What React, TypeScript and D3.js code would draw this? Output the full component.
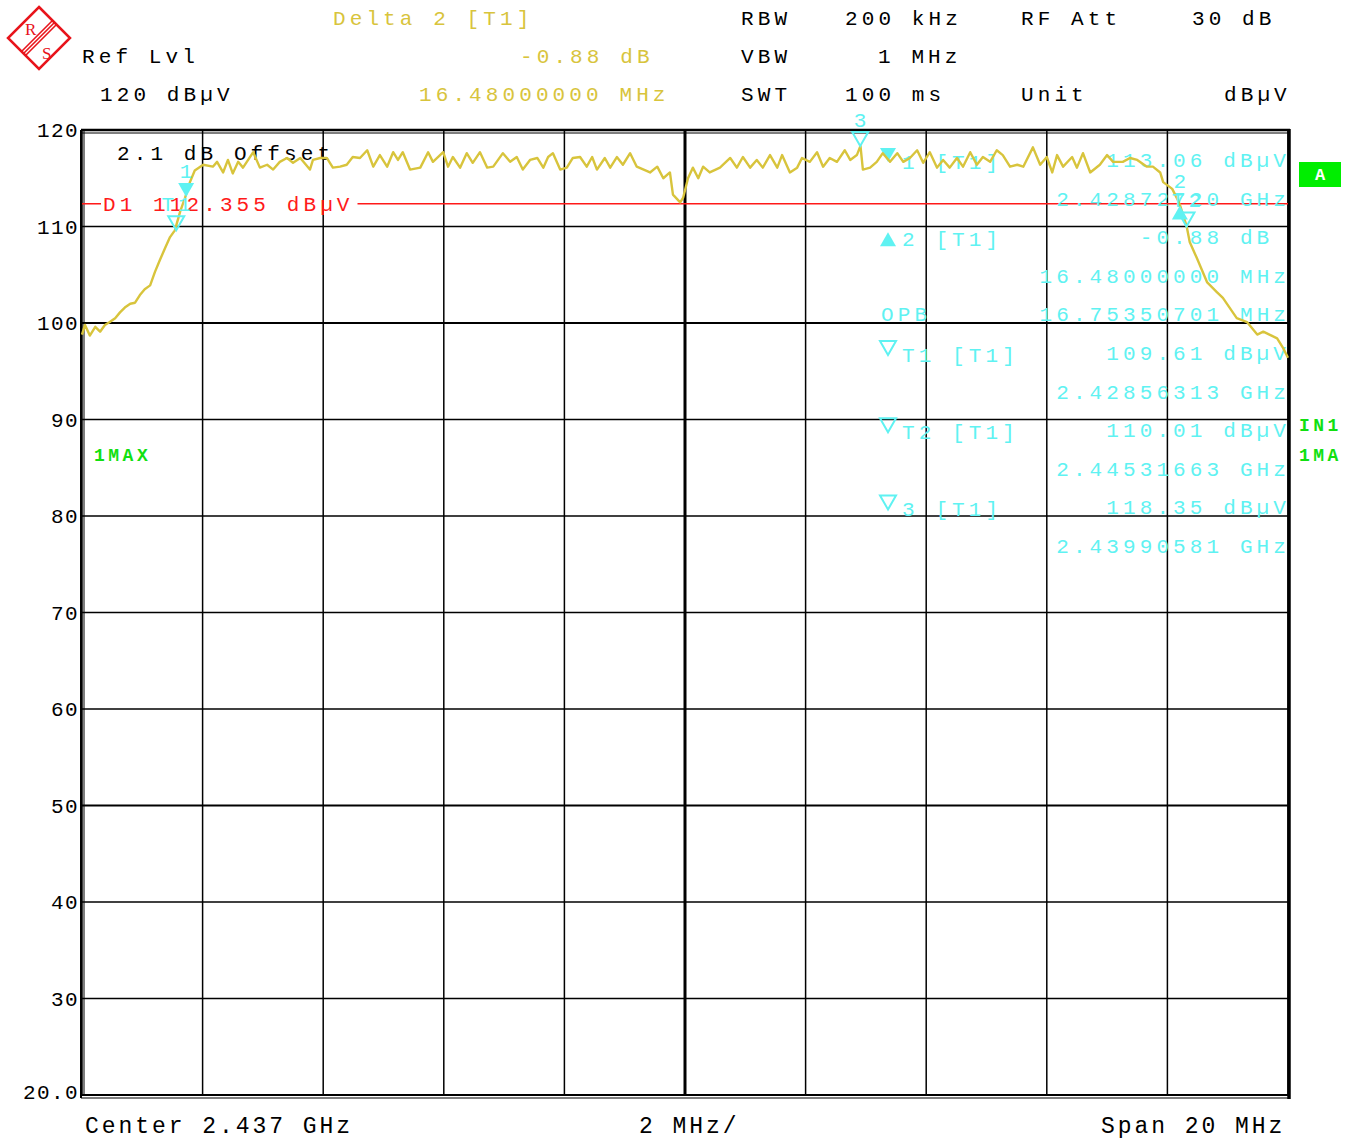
import { scaleLinear, line, range } from 'd3';

// trace 1 (max hold), offset from center in MHz, level in dBµV
const traceData: [number, number][] = [
  [-10.0, 98.8], [-9.95, 99.8], [-9.87, 98.7], [-9.78, 99.6], [-9.7, 99.1], [-9.62, 99.8],
  [-9.54, 100.1], [-9.45, 100.5], [-9.37, 101.1], [-9.29, 101.6], [-9.2, 102.0], [-9.12, 102.1],
  [-9.04, 102.9], [-8.96, 103.5], [-8.87, 103.9], [-8.79, 105.3], [-8.71, 106.5], [-8.62, 107.8],
  [-8.54, 108.9], [-8.46, 109.6], [-8.37, 111.6], [-8.29, 113.0], [-8.21, 114.6], [-8.13, 115.8],
  [-7.99, 116.4], [-7.83, 116.2], [-7.76, 116.7], [-7.66, 115.6], [-7.58, 116.9], [-7.5, 115.5],
  [-7.41, 116.7], [-7.33, 116.1], [-7.16, 117.7], [-7.05, 116.1], [-6.93, 116.4], [-6.83, 115.9],
  [-6.72, 116.7], [-6.6, 117.1], [-6.5, 116.6], [-6.38, 117.1], [-6.22, 115.9], [-6.17, 116.9],
  [-6.05, 117.1], [-5.94, 117.1], [-5.84, 116.1], [-5.72, 116.2], [-5.61, 116.4], [-5.51, 117.2],
  [-5.39, 117.1], [-5.27, 117.9], [-5.17, 116.2], [-5.06, 117.4], [-4.94, 116.2], [-4.84, 117.7],
  [-4.76, 116.9], [-4.68, 117.7], [-4.56, 115.9], [-4.39, 116.1], [-4.26, 117.7], [-4.18, 116.7],
  [-4.01, 117.7], [-3.93, 116.2], [-3.85, 117.2], [-3.73, 116.1], [-3.62, 117.6], [-3.52, 116.6],
  [-3.4, 117.7], [-3.28, 116.1], [-3.18, 116.2], [-3.02, 117.6], [-2.9, 116.7], [-2.79, 117.2],
  [-2.69, 115.9], [-2.57, 116.9], [-2.45, 117.1], [-2.35, 116.1], [-2.27, 117.2], [-2.19, 117.6],
  [-2.07, 115.9], [-1.96, 116.1], [-1.86, 117.1], [-1.74, 117.2], [-1.63, 116.2], [-1.54, 117.2],
  [-1.46, 115.9], [-1.33, 117.1], [-1.24, 116.1], [-1.13, 117.2], [-1.03, 116.4], [-0.91, 117.6],
  [-0.8, 116.2], [-0.58, 115.6], [-0.46, 116.2], [-0.36, 115.0], [-0.25, 115.6], [-0.2, 113.3],
  [-0.08, 112.5], [-0.03, 113.0], [0.05, 115.0], [0.13, 116.1], [0.22, 115.0], [0.3, 116.2],
  [0.41, 115.6], [0.58, 116.1], [0.75, 117.1], [0.86, 116.1], [0.96, 117.2], [1.08, 116.1],
  [1.19, 116.9], [1.29, 116.1], [1.41, 117.4], [1.53, 116.1], [1.61, 117.4], [1.74, 115.6],
  [1.86, 116.1], [1.94, 117.1], [2.07, 116.7], [2.19, 117.7], [2.29, 116.2], [2.4, 117.1],
  [2.52, 116.7], [2.65, 117.9], [2.74, 116.9], [2.85, 117.4], [2.91, 118.35], [2.95, 115.9],
  [3.07, 116.1], [3.18, 116.7], [3.28, 117.6], [3.4, 116.7], [3.52, 117.6], [3.62, 116.7],
  [3.73, 117.1], [3.85, 117.9], [3.95, 116.6], [4.06, 117.7], [4.18, 116.1], [4.28, 116.9],
  [4.39, 116.1], [4.51, 117.1], [4.61, 116.2], [4.73, 117.7], [4.84, 116.4], [4.94, 117.2],
  [5.06, 116.7], [5.17, 117.9], [5.27, 117.4], [5.39, 116.2], [5.51, 116.4], [5.61, 116.2],
  [5.77, 118.2], [5.89, 116.4], [6.0, 117.2], [6.09, 115.6], [6.17, 117.4], [6.27, 116.2],
  [6.42, 117.2], [6.5, 116.1], [6.6, 117.6], [6.72, 115.6], [6.88, 116.4], [7.0, 117.4],
  [7.1, 116.7], [7.26, 116.7], [7.38, 117.1], [7.5, 116.9], [7.66, 116.2], [7.76, 116.2],
  [7.88, 115.6], [7.93, 114.6], [8.08, 113.9], [8.16, 112.9], [8.21, 112.2], [8.26, 111.2],
  [8.32, 110.0], [8.37, 108.4], [8.49, 106.7], [8.66, 104.2], [8.82, 103.2], [8.92, 102.6],
  [9.15, 100.5], [9.32, 100.1], [9.49, 98.8], [9.59, 99.1], [9.82, 98.4], [9.92, 97.4],
  [10.0, 96.4],
];

const centerGHz = 2.437;
const spanMHz = 20;
const yTickValues = [120, 110, 100, 90, 80, 70, 60, 50, 40, 30, 20];
const yTickLabels = ['120', '110', '100', '90', '80', '70', '60', '50', '40', '30', '20.0'];
const displayLine = 112.355;

type Marker = { label: string; ghz: number; level: number; kind: 'down' | 'open' | 'up' };
const markers: Marker[] = [
  { label: '1', ghz: 2.4287272, level: 113.06, kind: 'down' },
  { label: 'T1', ghz: 2.42856313, level: 109.61, kind: 'open' },
  { label: 'T2', ghz: 2.44531663, level: 110.01, kind: 'open' },
  { label: '3', ghz: 2.43990581, level: 118.35, kind: 'open' },
  { label: '2', ghz: 2.4452072, level: 112.18, kind: 'up' },
];

// marker info block: symbol, name, value
const markerRows: [string, string, string][] = [
  ['down', '1 [T1]', '113.06 dBµV'],
  ['', '', '2.42872720 GHz'],
  ['up', '2 [T1]', '-0.88 dB '],
  ['', '', '16.48000000 MHz'],
  ['', 'OPB', '16.75350701 MHz'],
  ['open', 'T1 [T1]', '109.61 dBµV'],
  ['', '', '2.42856313 GHz'],
  ['open', 'T2 [T1]', '110.01 dBµV'],
  ['', '', '2.44531663 GHz'],
  ['open', '3 [T1]', '118.35 dBµV'],
  ['', '', '2.43990581 GHz'],
];

const MONO = "'Liberation Mono','DejaVu Sans Mono',monospace";
const CW = 16.7;
const CYAN = '#5ff2f2';
const YEL = '#d8c43c';
const RED = '#ff1a1a';
const GREEN = '#11e011';

function T({ x, y, children, fill = '#000', size = 21, ls = 4.1, weight = 'normal' }: any) {
  return (
    <text x={x} y={y} fill={fill} fontFamily={MONO} fontSize={size} letterSpacing={ls} fontWeight={weight}
      style={{ whiteSpace: 'pre' }}>
      {children}
    </text>
  );
}

function tri(kind: string, cx: number, tipY: number) {
  const w = 8, h = 14;
  if (kind === 'up') {
    return <path d={`M${cx},${tipY} L${cx + w},${tipY + h} L${cx - w},${tipY + h} Z`} fill={CYAN} />;
  }
  const d = `M${cx},${tipY} L${cx + w},${tipY - h} L${cx - w},${tipY - h} Z`;
  return kind === 'down'
    ? <path d={d} fill={CYAN} />
    : <path d={d} fill="none" stroke={CYAN} strokeWidth={2} />;
}

export default function App() {
  const left = 82, right = 1288, top = 130, bottom = 1095;
  const x = scaleLinear().domain([-spanMHz / 2, spanMHz / 2]).range([left, right]);
  const y = scaleLinear().domain([20, 120]).range([bottom, top]);
  const path = line<[number, number]>().x(d => x(d[0])).y(d => y(d[1]))(traceData) || '';
  const xDivs = range(-spanMHz / 2, spanMHz / 2 + 0.001, 2);
  const mx = (g: number) => x((g - centerGHz) * 1000);

  const d1Text = `D1 ${displayLine} dBµV`;
  const d1x = 103;
  const d1End = d1x + d1Text.length * CW;

  return (
    <svg width={1360} height={1139} style={{ position: 'absolute', left: 0, top: 0, background: '#fff' }}>
      {/* logo */}
      <g transform="translate(39,38)">
        <path d="M0,-31 L31,0 L0,31 L-31,0 Z" fill="none" stroke="#e8141b" strokeWidth={2.5} />
        {[-4, 0, 4].map(d => (
          <line key={d} x1={(d + 31) / 2} y1={(d - 31) / 2} x2={(d - 31) / 2} y2={(d + 31) / 2} stroke="#e8141b" strokeWidth={1.6} />
        ))}
        <text x={-14} y={-3} fill="#e8141b" fontFamily="'Liberation Serif',serif" fontSize={17}>R</text>
        <text x={3} y={21} fill="#e8141b" fontFamily="'Liberation Serif',serif" fontSize={17}>S</text>
      </g>

      {/* header */}
      <T x={333} y={25} fill={YEL}>Delta 2 [T1]</T>
      <T x={82} y={63}>Ref Lvl</T>
      <T x={520} y={63} fill={YEL}>-0.88 dB</T>
      <T x={100} y={101}>120 dBµV</T>
      <T x={419} y={101} fill={YEL}>16.48000000 MHz</T>
      <T x={741} y={25}>RBW</T>
      <T x={845} y={25}>200 kHz</T>
      <T x={1021} y={25}>RF Att</T>
      <T x={1192} y={25}>30 dB</T>
      <T x={741} y={63}>VBW</T>
      <T x={878} y={63}>1 MHz</T>
      <T x={741} y={101}>SWT</T>
      <T x={845} y={101}>100 ms</T>
      <T x={1021} y={101}>Unit</T>
      <T x={1224} y={101}>dBµV</T>

      {/* grid */}
      {yTickValues.map(v => (
        <line key={'h' + v} x1={left} x2={right} y1={y(v)} y2={y(v)} stroke="#000" strokeWidth={v === 100 || v === 50 ? 2 : 1.4} />
      ))}
      {xDivs.map(v => (
        <line key={'v' + v} x1={x(v)} x2={x(v)} y1={top} y2={bottom} stroke="#000" strokeWidth={v === 0 ? 3 : 1.5} />
      ))}
      {/* frame */}
      <line x1={left - 1} x2={right + 2} y1={top} y2={top} stroke="#000" strokeWidth={2.5} />
      <line x1={left} x2={right} y1={top + 3} y2={top + 3} stroke="#000" strokeWidth={1} />
      <line x1={left - 1} x2={right + 2} y1={bottom} y2={bottom} stroke="#000" strokeWidth={2} />
      <line x1={left - 1} x2={right + 2} y1={bottom + 3} y2={bottom + 3} stroke="#000" strokeWidth={1.2} />
      <line x1={left - 1} x2={left - 1} y1={top} y2={bottom + 3} stroke="#000" strokeWidth={2} />
      <line x1={left + 2} x2={left + 2} y1={top} y2={bottom} stroke="#000" strokeWidth={1} />
      <line x1={right + 1} x2={right + 1} y1={top - 1} y2={bottom + 4} stroke="#000" strokeWidth={3.5} />

      {yTickValues.map((v, i) => (
        <T key={'l' + v} x={79 - yTickLabels[i].length * 14} y={y(v) + (v === 20 ? 4 : 7)} ls={1.4}>{yTickLabels[i]}</T>
      ))}

      {/* display line D1 */}
      <line x1={left} x2={d1x - 2} y1={y(displayLine)} y2={y(displayLine)} stroke={RED} strokeWidth={1.5} />
      <line x1={d1End + 4} x2={right} y1={y(displayLine)} y2={y(displayLine)} stroke={RED} strokeWidth={1.5} />
      <T x={d1x} y={y(displayLine) + 7} fill={RED}>{d1Text}</T>

      <T x={117} y={160}>2.1 dB Offset</T>
      <T x={94} y={461} fill={GREEN} size={18} ls={3.5} weight="bold">1MAX</T>

      {/* marker info */}
      {markerRows.map((r, i) => {
        const by = 167 + i * 38.6;
        return (
          <g key={'m' + i}>
            {r[0] && tri(r[0], 888, r[0] === 'up' ? by - 12 : by - 5)}
            {r[1] && <T x={r[1] === 'OPB' ? 881 : 902} y={r[1] === 'OPB' ? by : by + 2} fill={CYAN}>{r[1]}</T>}
            <T x={1290 - r[2].length * CW} y={by} fill={CYAN}>{r[2]}</T>
          </g>
        );
      })}

      {/* trace */}
      <path d={path} fill="none" stroke={YEL} strokeWidth={2.4} strokeLinejoin="round" />

      {/* markers on trace */}
      {markers.map(m => {
        const cx = mx(m.ghz), cy = y(m.level);
        const labY = m.kind === 'up' ? cy - 17 : cy - 19;
        const lw = m.label.length * CW;
        return (
          <g key={m.label}>
            {tri(m.kind, cx, cy)}
            <T x={cx - lw / 2 + 2} y={labY} fill={CYAN}>{m.label}</T>
          </g>
        );
      })}

      {/* right side status */}
      <rect x={1299} y={162} width={42} height={25} fill="#00ee00" />
      <text x={1320} y={180} textAnchor="middle" fill="#fff" fontFamily={MONO} fontWeight="bold" fontSize={17}>A</text>
      <T x={1299} y={431} fill={GREEN} size={18} ls={3.5} weight="bold">IN1</T>
      <T x={1299} y={461} fill={GREEN} size={18} ls={3.5} weight="bold">1MA</T>

      {/* footer */}
      <T x={85} y={1133} size={23} ls={2.95}>{`Center ${centerGHz} GHz`}</T>
      <T x={639} y={1133} size={23} ls={2.95}>2 MHz/</T>
      <T x={1101} y={1133} size={23} ls={2.95}>{`Span ${spanMHz} MHz`}</T>
    </svg>
  );
}
